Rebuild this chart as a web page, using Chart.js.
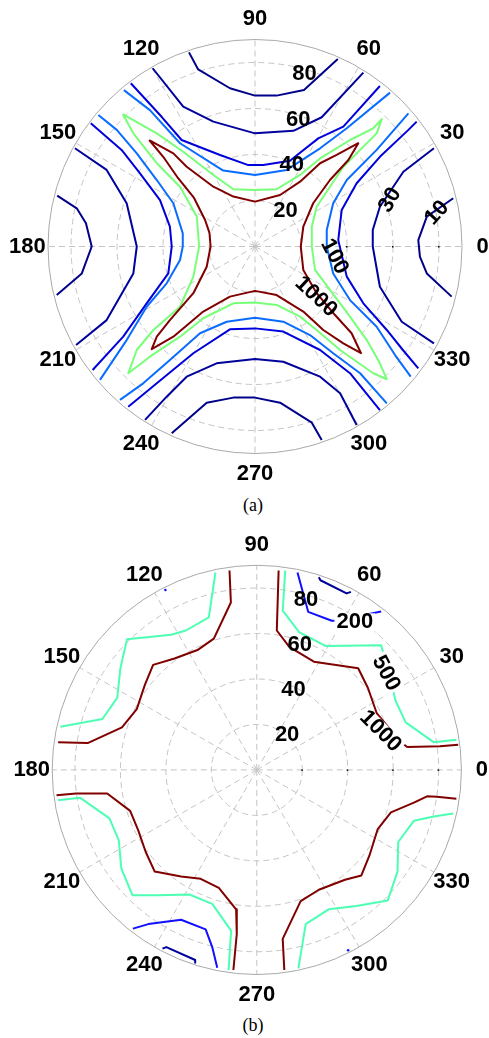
<!DOCTYPE html>
<html lang="en">
<head>
<meta charset="UTF-8">
<title>Polar contours</title>
<style>
  body { margin: 0; background: #fff; width: 489px; height: 1038px; position: relative; overflow: hidden; }
  canvas { position: absolute; left: 0; }
  #chartA { top: 0; }
  #chartB { top: 514px; }
  .caption { position: absolute; left: 0; width: 506px; text-align: center; line-height: 20px;
             font-family: 'Liberation Serif', 'Times New Roman', serif; font-size: 18px; color: #000; }
</style>
</head>
<body>

<canvas id="chartA" width="489" height="490"></canvas>
<div class="caption" style="top:495px">(a)</div>
<canvas id="chartB" width="489" height="500"></canvas>
<div class="caption" style="top:1015px">(b)</div>

<script src="https://cdn.jsdelivr.net/npm/chart.js@4.4.1/dist/chart.umd.min.js"></script>
<script>
var rMax = 90;
var angleTicks = [0, 30, 60, 90, 120, 150, 180, 210, 240, 270, 300, 330];
var ringTicks = [20, 40, 60, 80];

// contour vertices, [x, y] in radial units (r = rMax on the outer circle)
// ---- panel (a)
var a10Top = [[-28.7,84.4],[-24.7,77.0],[-10.9,68.8],[0,65.6],[9.4,65.6],[21.3,68.0],[36.0,81.5]];
var a10Left = [[-86.0,22.1],[-77.5,16.6],[-73.5,10.1],[-71.0,0],[-75.3,-11.7],[-86.2,-21.1]];
var a10Right = [[86.2,21.0],[74.7,13.0],[71.0,2.8],[71.7,-4.4],[74.7,-11.7],[85.5,-21.8]];
var a10Bottom = [[-36.2,-81.2],[-21.0,-67.9],[-9.4,-65.7],[0,-65.7],[10.9,-67.9],[24.7,-76.6],[29.0,-84.1]];

var a30Top = [[-44.5,77.5],[-31.2,60.8],[-18.1,54.3],[0,49.2],[16.7,50.3],[29.0,56.2],[47.1,75.6]];
var a30Left = [[-78.3,42.7],[-64.5,33.3],[-55.8,18.8],[-51.4,0],[-52.9,-11.7],[-64.5,-32.0],[-77.8,-42.8]];
var a30Right = [[77.8,42.7],[64.5,32.5],[54.3,17.3],[51.2,7.2],[51.2,0],[54.3,-17.5],[63.8,-32.7],[77.8,-42.1]];
var a30Bottom = [[-47.8,-75.4],[-38.4,-65.3],[-29.7,-56.6],[-16.7,-50.8],[0,-48.9],[12.3,-50.1],[28.3,-56.6],[37.0,-63.8],[44.2,-77.6]];

var a100Top = [[-54.0,71.0],[-40.6,56.4],[-31.9,46.3],[-15.2,39.8],[-2.9,35.4],[3.6,35.4],[15.2,37.3],[27.5,47.0],[38.4,52.1],[54.3,69.8]];
var a100Left = [[-71.4,53.6],[-58.0,42.0],[-50.0,31.8],[-41.3,20.2],[-37.0,8.6],[-36.2,0],[-37.7,-11.7],[-47.1,-24.7],[-57.3,-39.2],[-70.6,-53.7]];
var a100Right = [[70.3,54.3],[66.7,50.7],[54.3,39.0],[44.2,27.5],[37.7,15.9],[36.2,2.8],[39.9,-13.1],[47.1,-24.7],[57.3,-36.3],[64.3,-45.0],[71.0,-53.0]];
var a100Bottom = [[-55.1,-69.7],[-42.7,-59.5],[-26.8,-46.4],[-10.9,-36.0],[0,-35.6],[12.3,-37.0],[28.3,-45.0],[41.3,-55.1],[54.3,-71.1]];

var a200Top = [[-57.0,68.0],[-45.7,59.3],[-32.6,44.9],[-13.8,33.0],[0,31.1],[13.8,33.3],[28.3,42.7],[39.9,51.4],[58.7,66.9]];
var a200Left = [[-68.1,57.2],[-60.1,50.7],[-51.4,40.5],[-42.7,28.9],[-35.5,18.8],[-31.4,5.7],[-31.4,0],[-32.6,-5.9],[-38.4,-16.0],[-47.1,-26.2],[-55.8,-40.7],[-67.4,-58.0]];
var a200Right = [[66.7,57.9],[52.9,42.0],[39.9,28.9],[34.0,18.8],[31.2,7.2],[31.2,0],[34.0,-11.7],[41.3,-23.3],[52.9,-34.9],[60.9,-47.2],[67.7,-56.6]];
var a200Bottom = [[-58.7,-66.7],[-48.6,-59.5],[-37.0,-49.3],[-23.9,-37.7],[-12.3,-32.7],[0,-31.0],[12.3,-32.7],[23.9,-38.5],[34.0,-46.4],[45.7,-55.1],[57.3,-68.2]];

var a500 = [[-57.5,57.6],[-42.7,49.2],[-31.2,41.2],[-18.1,31.1],[-9.4,24.9],[0,24.6],[9.4,24.9],[19.6,31.1],[28.3,38.3],[41.3,46.3],[51.4,51.4],[55.1,55.4],
  [52.9,49.2],[45.7,42.0],[38.4,34.7],[32.6,26.0],[26.8,17.3],[24.7,8.6],[24.7,-0.1],[26.1,-10.2],[32.6,-18.9],[41.3,-30.5],[48.6,-40.7],[54.3,-50.8],[57.3,-57.7],
  [51.4,-55.1],[37.0,-45.0],[26.8,-36.3],[19.6,-30.5],[9.4,-25.4],[0,-24.3],[-9.4,-24.7],[-22.5,-31.2],[-32.6,-39.2],[-45.7,-47.9],[-55.1,-55.1],
  [-51.4,-45.0],[-44.2,-36.3],[-32.6,-26.2],[-26.8,-13.1],[-24.3,0],[-25.3,13.0],[-32.6,26.0],[-42.7,36.2],[-52.9,49.2],[-57.5,57.6]];

var a1000 = [[-46.0,46.3],[-35.5,40.5],[-29.7,34.7],[-18.1,26.0],[-9.4,21.7],[0,19.5],[10.9,22.4],[19.6,28.2],[28.3,36.2],[35.5,39.8],[44.9,44.9],
  [40.6,37.6],[32.6,28.9],[25.3,18.8],[21.0,8.6],[19.9,-0.1],[21.0,-10.2],[26.8,-20.3],[34.8,-29.8],[42.0,-37.7],[46.1,-46.4],
  [38.4,-42.1],[29.7,-36.3],[21.0,-28.3],[9.4,-21.1],[0,-19.3],[-10.9,-21.8],[-22.5,-28.3],[-35.5,-39.2],[-44.9,-44.6],
  [-42.7,-39.2],[-37.0,-32.0],[-26.8,-20.3],[-21.0,-8.8],[-19.3,0],[-19.8,5.9],[-21.7,11.5],[-26.5,21.1],[-33.5,29.8],[-39.9,39.0],[-46.0,46.3]];

// ---- panel (b)
var b100UR = [[27.3,84.7],[28.0,83.4],[39.5,77.6],[41.4,78.3]];   // darkest, unlabelled
var b100LL = [[-41.5,-78.6],[-39.8,-77.9],[-27.1,-83.6],[-27.1,-84.8]];
var b200UR = [[17.9,86.8],[22.6,69.5],[33.0,65.6],[35.9,65.6],[48.9,68.5],[54.7,69.7]];
var b200LL = [[-54.5,-69.8],[-47.7,-67.8],[-33.3,-65.9],[-22.5,-70.1],[-19.6,-77.9],[-17.4,-87.0]];
var b200Dots = [[-40.2,79.1],[40.2,-79.3]];
var b500UL = [[-18.2,86.8],[-21.1,67.1],[-31.2,61.3],[-37.6,59.4],[-57.1,57.4],[-60.0,44.7],[-61.4,31.7],[-67.9,22.4],[-86.4,19.0]];
var b500UR = [[12.5,87.7],[11.4,70.0],[18.6,60.6],[30.2,54.5],[54.7,54.8],[56.8,47.6],[60.4,33.2],[61.1,30.3],[65.5,20.9],[77.8,12.2],[87.8,13.3]];
var b500LL = [[-87.4,-13.3],[-77.8,-12.2],[-64.8,-21.3],[-60.7,-31.0],[-59.6,-43.3],[-54.7,-55.1],[-43.4,-55.1],[-29.7,-54.8],[-19.6,-58.9],[-11.3,-70.7],[-12.4,-88.0]];
var b500LR = [[18.3,-87.3],[21.5,-67.8],[31.6,-61.3],[43.8,-59.8],[57.6,-57.4],[61.9,-44.7],[62.2,-31.7],[69.1,-22.4],[77.8,-20.5],[86.4,-19.2]];
var b1000UL = [[-12.0,87.7],[-11.4,73.6],[-18.9,57.7],[-26.1,52.7],[-36.2,49.0],[-45.6,46.2],[-49.2,37.5],[-52.8,26.7],[-59.3,18.7],[-74.4,11.8],[-87.4,12.2]];
var b1000UR = [[9.6,87.7],[8.8,61.3],[14.3,54.1],[25.1,47.6],[44.6,44.7],[48.9,36.0],[52.8,24.8],[63.3,12.2],[66.2,10.1],[80.6,10.4],[88.6,11.1]];
var b1000LL = [[-88.1,-11.1],[-79.5,-10.4],[-65.8,-10.4],[-55.7,-18.0],[-52.1,-26.7],[-48.9,-36.0],[-44.9,-44.7],[-33.3,-46.9],[-24.7,-47.9],[-16.7,-51.9],[-9.1,-61.3],[-8.8,-72.1],[-10.3,-88.0]];
var b1000LR = [[12.1,-88.0],[11.4,-74.3],[19.3,-57.7],[27.3,-52.7],[38.8,-48.3],[46.0,-46.4],[49.6,-37.5],[53.2,-26.0],[59.0,-18.7],[69.1,-14.4],[74.9,-11.6],[79.2,-11.8],[87.8,-12.7]];

// inline contour labels: text, x, y, rotation (deg)
var labelsA = [['10', 79.1, 14.6, -48], ['30', 58.7, 20.2, -60], ['100', 34.5, -4.4, 62], ['1000', 26.5, -21.8, 43]];
var labelsB = [['200', 43.1, 64.9, 0], ['500', 56.8, 42.5, 62], ['1000', 54.4, 17.0, 45]];

var BOLD = 'bold 22px "Liberation Sans", Arial, sans-serif';

function contour(pts, color) {
    return {
        data: pts.map(function (p) { return { x: p[0], y: p[1] }; }),
        showLine: true, borderColor: color, borderWidth: 2,
        pointRadius: 0, tension: 0, fill: false, borderJoinStyle: 'round'
    };
}

var polarGrid = {
    id: 'polarGrid',
    beforeDatasetsDraw: function (chart) {
        var xs = chart.scales.x, ys = chart.scales.y, ctx = chart.ctx;
        var cx = xs.getPixelForValue(0), cy = ys.getPixelForValue(0);
        var k = xs.getPixelForValue(1) - cx;
        ctx.save();
        ctx.lineWidth = 1;
        ctx.strokeStyle = '#c4c4c4';
        ctx.setLineDash([6, 4]);
        ringTicks.forEach(function (r) {
            ctx.beginPath();
            ctx.arc(cx, cy, r * k, 0, 2 * Math.PI);
            ctx.stroke();
        });
        angleTicks.forEach(function (a) {
            var t = a * Math.PI / 180;
            ctx.beginPath();
            ctx.moveTo(cx, cy);
            ctx.lineTo(cx + rMax * k * Math.cos(t), cy - rMax * k * Math.sin(t));
            ctx.stroke();
        });
        ctx.setLineDash([]);
        ctx.strokeStyle = '#a9a9a9';
        ctx.beginPath();
        ctx.arc(cx, cy, rMax * k, 0, 2 * Math.PI);
        ctx.stroke();
        // small black ticks along the 0 deg spoke
        ctx.fillStyle = '#000';
        ringTicks.forEach(function (r) {
            ctx.fillRect(cx + r * k - 1, cy - 0.5, 1.5, 1.5);
        });
        ctx.restore();
    },
    afterDatasetsDraw: function (chart, args, opts) {
        var xs = chart.scales.x, ys = chart.scales.y, ctx = chart.ctx;
        var cx = xs.getPixelForValue(0), cy = ys.getPixelForValue(0);
        var k = xs.getPixelForValue(1) - cx;
        ctx.save();
        ctx.font = BOLD;
        ctx.fillStyle = '#000';
        ctx.textAlign = 'center';
        ctx.textBaseline = 'middle';
        angleTicks.forEach(function (a) {
            var t = a * Math.PI / 180, r = 1.1 * rMax;
            ctx.fillText(String(a), cx + r * k * Math.cos(t), cy - r * k * Math.sin(t));
        });
        var t82 = 82 * Math.PI / 180;
        ringTicks.forEach(function (r) {
            ctx.fillText(String(r), cx + r * k * Math.cos(t82) + 24, cy - r * k * Math.sin(t82) + 10);
        });
        (opts.labels || []).forEach(function (l) {
            var x = xs.getPixelForValue(l[1]), y = ys.getPixelForValue(l[2]);
            ctx.save();
            ctx.translate(x, y);
            ctx.rotate(l[3] * Math.PI / 180);
            if (opts.labelBg) {
                var w = ctx.measureText(l[0]).width;
                ctx.fillStyle = '#fff';
                ctx.fillRect(-w / 2 - 2, -9, w + 4, 18);
                ctx.fillStyle = '#000';
            }
            ctx.fillText(l[0], 0, 0);
            ctx.restore();
        });
        ctx.restore();
    }
};

function makePolar(id, cxPx, cyPx, radiusPx, datasets, labels, labelBg) {
    var canvas = document.getElementById(id);
    var s = radiusPx / rMax;
    new Chart(canvas, {
        type: 'scatter',
        data: { datasets: datasets },
        options: {
            responsive: false,
            animation: false,
            layout: { padding: 0 },
            scales: {
                x: { type: 'linear', display: false, min: -cxPx / s, max: (canvas.width - cxPx) / s },
                y: { type: 'linear', display: false, min: -(canvas.height - cyPx) / s, max: cyPx / s }
            },
            plugins: {
                legend: { display: false },
                tooltip: { enabled: false },
                polarGrid: { labels: labels, labelBg: labelBg }
            }
        },
        plugins: [polarGrid]
    });
}

var C10 = '#000088', C30 = '#00009c', C100 = '#0000dc', C200 = '#0a6cff', C500 = '#78ff78', C1000 = '#800000';
var setA = [
    contour(a1000, C1000), contour(a500, C500),
    contour(a200Top, C200), contour(a200Left, C200), contour(a200Right, C200), contour(a200Bottom, C200),
    contour(a100Top, C100), contour(a100Left, C100), contour(a100Right, C100), contour(a100Bottom, C100),
    contour(a30Top, C30), contour(a30Left, C30), contour(a30Right, C30), contour(a30Bottom, C30),
    contour(a10Top, C10), contour(a10Left, C10), contour(a10Right, C10), contour(a10Bottom, C10)
];

var D100 = '#00009a', D200 = '#1010ff', D500 = '#4dffb3', D1000 = '#800000';
var dots = contour(b200Dots, D200);
dots.showLine = false; dots.pointRadius = 1.3; dots.pointBackgroundColor = D200; dots.pointBorderWidth = 0;
var setB = [
    contour(b1000UL, D1000), contour(b1000UR, D1000), contour(b1000LL, D1000), contour(b1000LR, D1000),
    contour(b500UL, D500), contour(b500UR, D500), contour(b500LL, D500), contour(b500LR, D500),
    contour(b200UR, D200), contour(b200LL, D200), dots,
    contour(b100UR, D100), contour(b100LL, D100)
];

makePolar('chartA', 255, 246.5, 207, setA, labelsA, false);
makePolar('chartB', 257, 256, 208, setB, labelsB, true);
</script>
</body>
</html>
